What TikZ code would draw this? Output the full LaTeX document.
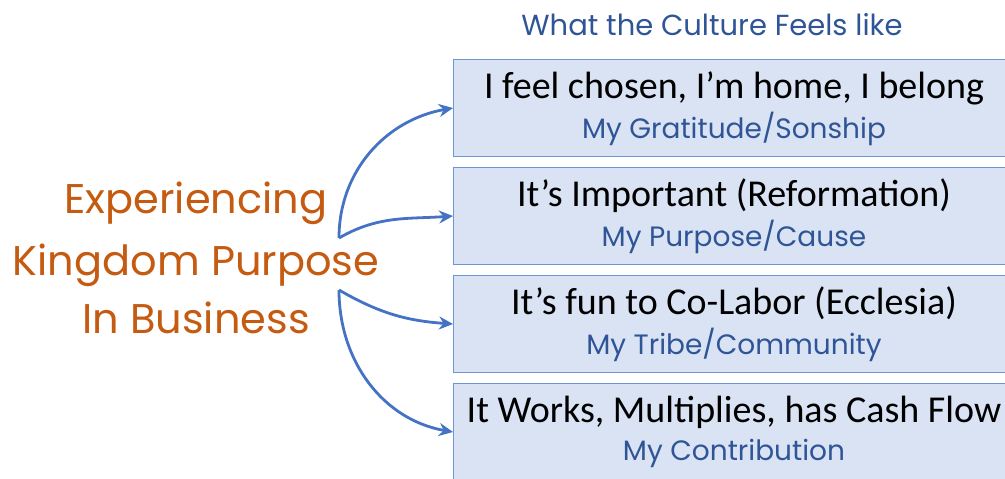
\documentclass[tikz,border=0pt]{standalone}
\usepackage{fontspec}
\setmainfont{Carlito}
\newfontfamily\handfont{Poppins}
\usepackage{xcolor}
\usepackage{tikz}
\usetikzlibrary{arrows.meta, positioning}
\definecolor{boxfill}{HTML}{DAE3F3}
\definecolor{boxline}{HTML}{6F94D6}
\definecolor{arrowblue}{HTML}{4472C4}
\definecolor{handblue}{HTML}{2F5597}
\definecolor{handorange}{HTML}{C55A11}
\begin{document}
\begin{tikzpicture}[x=1pt, y=-1pt,
  feelbox/.style={draw=boxline, line width=1.2pt, fill=boxfill, anchor=west,
    minimum width=562pt, minimum height=97pt, inner sep=0pt},
  feeltext/.style={anchor=base, font=\fontsize{38}{44}\selectfont, text=black},
  whytext/.style={anchor=base, font=\handfont\fontsize{28}{32}\selectfont, text=handblue},
  bigtext/.style={anchor=base, font=\handfont\fontsize{41.5}{48}\selectfont, text=handorange},
  flow/.style={draw=arrowblue, line width=2.8pt, -{Stealth[length=14pt, width=13pt]}}]
  \clip (0,0) rectangle (1005,479);
  \node (title) at (712,35) [anchor=base, font=\handfont\fontsize{29}{34}\selectfont, text=handblue] {What the Culture Feels like};
  \node (line1) at (196,213) [bigtext] {Experiencing};
  \node (line2) at (196,275) [bigtext] {Kingdom Purpose};
  \node (line3) at (196,333) [bigtext] {In Business};
  \node (b1) at (453,108) [feelbox] {};
  \node (b2) at (453,216) [feelbox] {};
  \node (b3) at (453,324) [feelbox] {};
  \node (b4) at (453,432) [feelbox] {};
  \node (t1) at (734,98) [feeltext] {I feel chosen, I’m home, I belong};
  \node (s1) at (734,138) [whytext] {My Gratitude/Sonship};
  \node (t2) at (734,206) [feeltext] {It’s Important (Reformation)};
  \node (s2) at (734,246) [whytext] {My Purpose/Cause};
  \node (t3) at (734,314) [feeltext] {It’s fun to Co-Labor (Ecclesia)};
  \node (s3) at (734,354) [whytext] {My Tribe/Community};
  \node (t4) at (734,422) [feeltext] {It Works, Multiplies, has Cash Flow};
  \node (s4) at (734,460) [whytext] {My Contribution};
  \coordinate (top) at (339,238);
  \coordinate (bottom) at (339,290);
  \draw[flow] (top) to[out=90, in=190] (b1.west);
  \draw[flow] (top) to[out=30, in=184] (b2.west);
  \draw[flow] (bottom) to[out=-30, in=176] (b3.west);
  \draw[flow] (bottom) to[out=-90, in=170] (b4.west);
\end{tikzpicture}
\end{document}
